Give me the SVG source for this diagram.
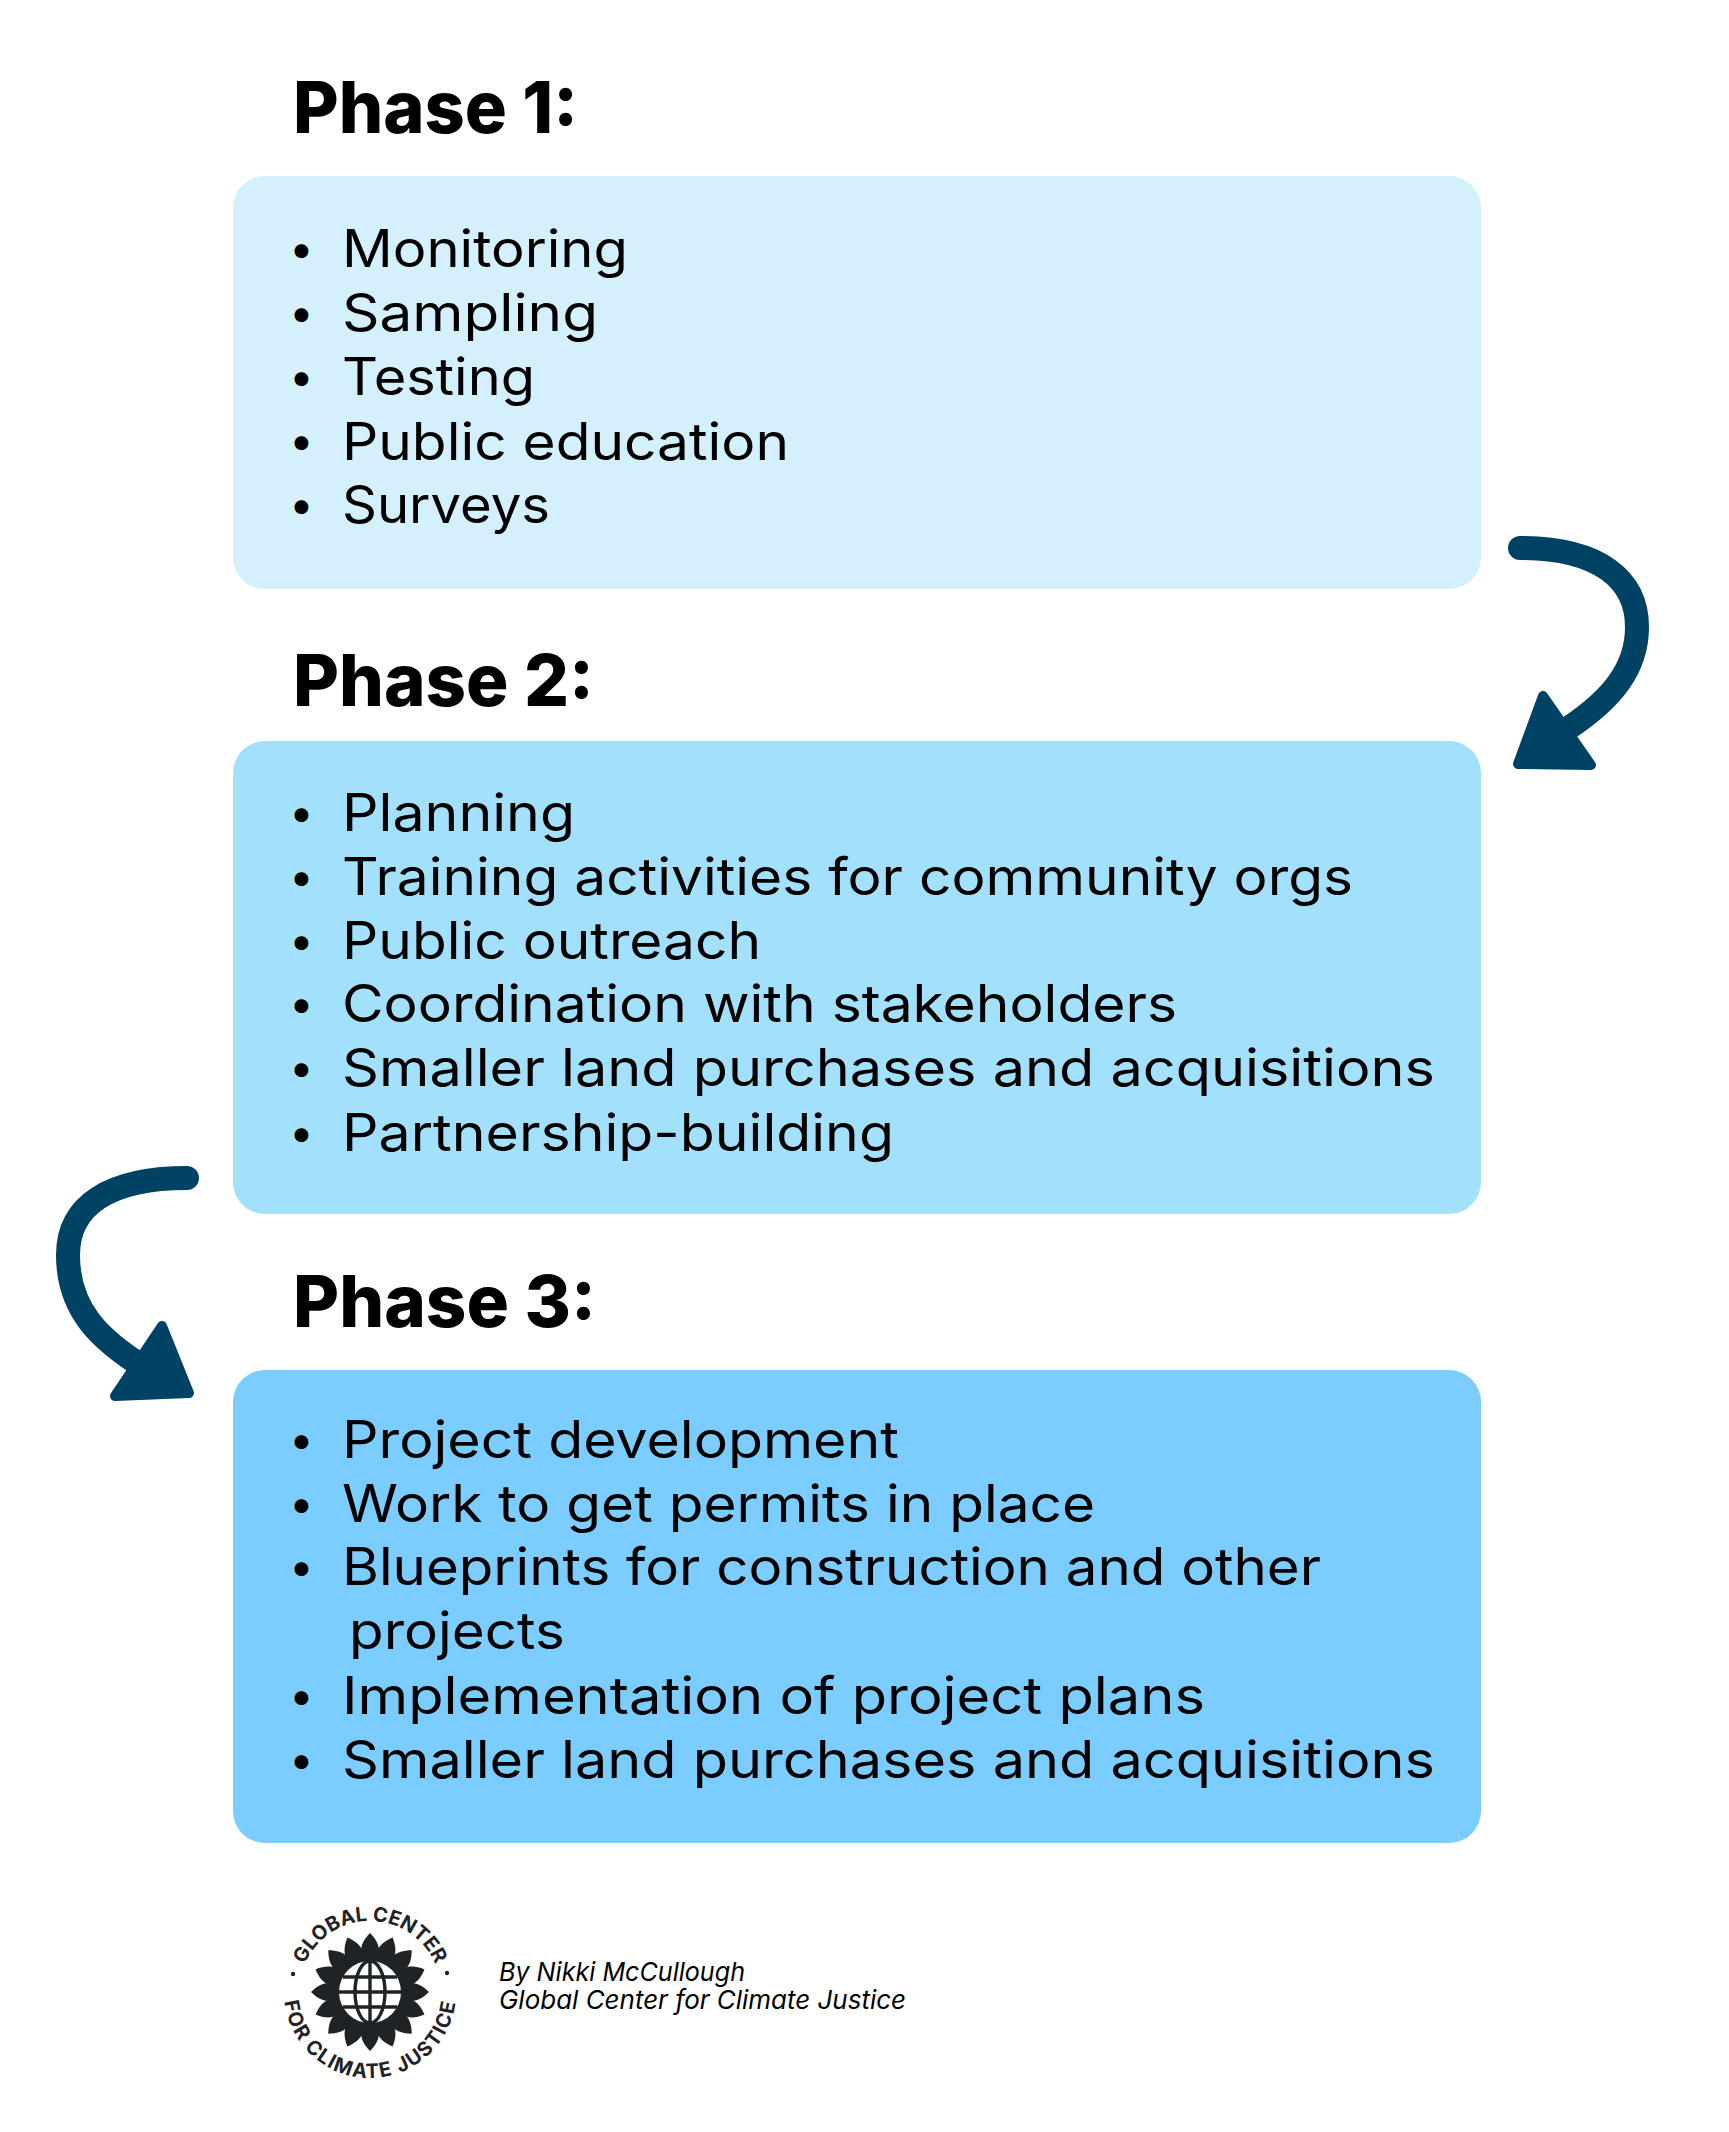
<svg xmlns="http://www.w3.org/2000/svg" width="1729" height="2132" viewBox="0 0 1729 2132">
<style>
text{font-family:"Inter","Noto Sans","Liberation Sans",sans-serif;fill:#000}
.h{font-size:72px;font-weight:800}
.i{font-size:52px;font-weight:400}
.b{font-size:44px;font-weight:700}
.c{font-size:26px;font-style:italic;font-weight:400}
.l{font-size:20px;font-weight:700;fill:#1f2326;letter-spacing:0}
.m{font-size:20px;font-weight:700;fill:#1f2326;letter-spacing:1.4px}
.arc{fill:none;stroke:#004263;stroke-width:24;stroke-linecap:round}
.hd{fill:#004263;stroke:#004263;stroke-width:10;stroke-linejoin:round}
</style>
<defs>
<path id="pt" d="M0,-59C6,-53 9,-47 9,-41C9,-37 8,-33 7,-30L-7,-30C-8,-33 -9,-37 -9,-41C-9,-47 -6,-53 0,-59Z" fill="#1f2326"/>
<path id="ga" d="M-71,0A71,71 0 0 1 71,0"/>
<path id="gb" d="M-86,0A86,86 0 0 0 86,0"/>
</defs>
<rect width="1729" height="2132" fill="#fff"/>
<g id="phase1">
<text class="h" x="293" y="133" textLength="285" lengthAdjust="spacingAndGlyphs">Phase 1:</text>
<rect x="233" y="176" width="1248" height="413" rx="32" fill="#d4f0fd"/>
<text class="b" x="291" y="264">•</text><text class="i" x="342" y="267" textLength="286" lengthAdjust="spacingAndGlyphs">Monitoring</text>
<text class="b" x="291" y="328">•</text><text class="i" x="342" y="331" textLength="256" lengthAdjust="spacingAndGlyphs">Sampling</text>
<text class="b" x="291" y="392">•</text><text class="i" x="342" y="395" textLength="193" lengthAdjust="spacingAndGlyphs">Testing</text>
<text class="b" x="291" y="456">•</text><text class="i" x="342" y="460" textLength="447" lengthAdjust="spacingAndGlyphs">Public education</text>
<text class="b" x="291" y="520">•</text><text class="i" x="342" y="523" textLength="208" lengthAdjust="spacingAndGlyphs">Surveys</text>
</g>
<g id="phase2">
<text class="h" x="293" y="706" textLength="301" lengthAdjust="spacingAndGlyphs">Phase 2:</text>
<rect x="233" y="741" width="1248" height="473" rx="32" fill="#a2e0fc"/>
<text class="b" x="291" y="828">•</text><text class="i" x="342" y="831" textLength="233" lengthAdjust="spacingAndGlyphs">Planning</text>
<text class="b" x="291" y="892">•</text><text class="i" x="342" y="895" textLength="1011" lengthAdjust="spacingAndGlyphs">Training activities for community orgs</text>
<text class="b" x="291" y="956">•</text><text class="i" x="342" y="959" textLength="419" lengthAdjust="spacingAndGlyphs">Public outreach</text>
<text class="b" x="291" y="1019">•</text><text class="i" x="342" y="1022" textLength="835" lengthAdjust="spacingAndGlyphs">Coordination with stakeholders</text>
<text class="b" x="291" y="1083">•</text><text class="i" x="342" y="1086" textLength="1093" lengthAdjust="spacingAndGlyphs">Smaller land purchases and acquisitions</text>
<text class="b" x="291" y="1148">•</text><text class="i" x="342" y="1151" textLength="552" lengthAdjust="spacingAndGlyphs">Partnership-building</text>
</g>
<g id="phase3">
<text class="h" x="293" y="1327" textLength="303" lengthAdjust="spacingAndGlyphs">Phase 3:</text>
<rect x="233" y="1370" width="1248" height="473" rx="32" fill="#7bcdff"/>
<text class="b" x="291" y="1455">•</text><text class="i" x="342" y="1458" textLength="557" lengthAdjust="spacingAndGlyphs">Project development</text>
<text class="b" x="291" y="1519">•</text><text class="i" x="342" y="1522" textLength="753" lengthAdjust="spacingAndGlyphs">Work to get permits in place</text>
<text class="b" x="291" y="1582">•</text><text class="i" x="342" y="1585" textLength="979" lengthAdjust="spacingAndGlyphs">Blueprints for construction and other</text>
<text class="i" x="349" y="1649" textLength="216" lengthAdjust="spacingAndGlyphs">projects</text>
<text class="b" x="291" y="1711">•</text><text class="i" x="342" y="1714" textLength="863" lengthAdjust="spacingAndGlyphs">Implementation of project plans</text>
<text class="b" x="291" y="1775">•</text><text class="i" x="342" y="1778" textLength="1093" lengthAdjust="spacingAndGlyphs">Smaller land purchases and acquisitions</text>
</g>
<g id="connectors">
<g id="arrow-1-2">
<path class="arc" d="M1520,548C1600,548 1637,580 1637,627C1637,670 1610,700 1570,727"/>
<path class="hd" d="M1543,696L1518,764L1591,765Z"/>
</g>
<g id="arrow-2-3">
<path class="arc" d="M187,1178C110,1178 68,1205 68,1255C68,1310 100,1340 145,1368"/>
<path class="hd" d="M162,1326L189,1393L115,1396Z"/>
</g>
</g>
<g id="logo" transform="translate(370,1992)">
<use href="#pt"/>
<use href="#pt" transform="rotate(22.5)"/><use href="#pt" transform="rotate(45)"/><use href="#pt" transform="rotate(67.5)"/>
<use href="#pt" transform="rotate(90)"/><use href="#pt" transform="rotate(112.5)"/><use href="#pt" transform="rotate(135)"/>
<use href="#pt" transform="rotate(157.5)"/><use href="#pt" transform="rotate(180)"/><use href="#pt" transform="rotate(202.5)"/>
<use href="#pt" transform="rotate(225)"/><use href="#pt" transform="rotate(247.5)"/><use href="#pt" transform="rotate(270)"/>
<use href="#pt" transform="rotate(292.5)"/><use href="#pt" transform="rotate(315)"/><use href="#pt" transform="rotate(337.5)"/>
<circle r="37" fill="#1f2326"/>
<circle r="31" fill="#fff"/>
<g fill="none" stroke="#1f2326" stroke-width="3.4">
<ellipse rx="15" ry="31"/>
<path d="M0,-31V31M-31,0H31M-27,-15H27M-27,15H27"/>
</g>
<text class="l"><textPath href="#ga" startOffset="50%" text-anchor="middle">GLOBAL CENTER</textPath></text>
<text class="m"><textPath href="#gb" startOffset="50%" text-anchor="middle">FOR CLIMATE JUSTICE</textPath></text>
<circle cx="-77" cy="-18" r="2.2" fill="#1f2326"/>
<circle cx="77" cy="-19" r="2.2" fill="#1f2326"/>
</g>
<g id="credit">
<text class="c" x="499" y="1981" textLength="246" lengthAdjust="spacingAndGlyphs">By Nikki McCullough</text>
<text class="c" x="499" y="2009" textLength="407" lengthAdjust="spacingAndGlyphs">Global Center for Climate Justice</text>
</g>
</svg>
